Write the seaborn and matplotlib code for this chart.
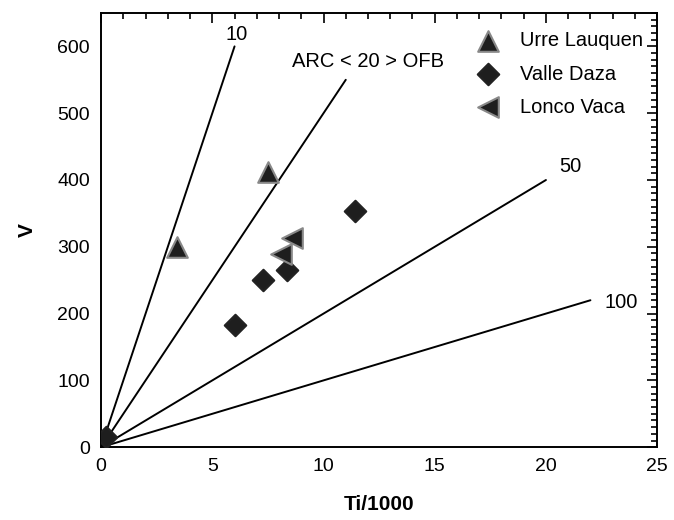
# Ti/1000 vs V discrimination diagram (Shervais-style) with seaborn
import matplotlib

matplotlib.use("Agg", force=True)

import matplotlib.pyplot as plt
import seaborn as sns
import pandas as pd
from matplotlib.ticker import MultipleLocator

# Sample data
urre_ti = [3.4, 7.5]
urre_v = [299, 412]
valle_ti = [0.2, 6.0, 7.3, 8.35, 11.4]
valle_v = [15, 183, 250, 265, 353]
lonco_ti = [8.1, 8.6]
lonco_v = [289, 313]

# Ti/V reference lines: each runs from the origin to an end point
ratio_labels = ["10", "ARC < 20 > OFB", "50", "100"]
line_end_ti = [6, 11, 20, 22]
line_end_v = [600, 550, 400, 220]

sns.set_style("white")
plt.rcParams["font.family"] = ["Liberation Sans", "DejaVu Sans"]
# plain black text everywhere, like the original figure
for key in ["text.color", "axes.labelcolor", "xtick.color", "ytick.color"]:
    plt.rcParams[key] = "black"

fig = plt.figure(figsize=(6.74, 5.20), dpi=100)
ax = fig.add_axes([0.150, 0.140, 0.825, 0.835])

# reference lines
for lab, xe, ye in zip(ratio_labels, line_end_ti, line_end_v):
    line_df = pd.DataFrame({"Ti": [0, xe], "V": [0, ye]})
    sns.lineplot(data=line_df, x="Ti", y="V", ax=ax, color="black", linewidth=1.4)

# labels for the lines
ax.text(6.1, 618, "10", fontsize=14.5, ha="center", va="center")
ax.text(12.0, 578, "ARC < 20 > OFB", fontsize=14.5, ha="center", va="center")
ax.text(21.1, 420, "50", fontsize=14.5, ha="center", va="center")
ax.text(23.4, 216, "100", fontsize=14.5, ha="center", va="center")

groups = [
    ("Urre Lauquen", urre_ti, urre_v, "^", "#888888", 220),
    ("Valle Daza", valle_ti, valle_v, "D", "#222222", 120),
    ("Lonco Vaca", lonco_ti, lonco_v, "<", "#888888", 220),
]
for name, xs, ys, mk, ec, sz in groups:
    df = pd.DataFrame({"Ti": xs, "V": ys})
    sns.scatterplot(data=df, x="Ti", y="V", ax=ax, marker=mk, s=sz,
                    color="#1e1e1e", edgecolor=ec, linewidth=1.5,
                    label=name, zorder=5)

ax.set_xlim(0, 25)
ax.set_ylim(0, 650)
ax.xaxis.set_major_locator(MultipleLocator(5))
ax.xaxis.set_minor_locator(MultipleLocator(1))
ax.yaxis.set_major_locator(MultipleLocator(100))
ax.yaxis.set_minor_locator(MultipleLocator(10))
ax.tick_params(which="both", direction="in", top=True, right=True,
               labelsize=14, width=1.2, pad=8)
ax.tick_params(which="major", length=7)
ax.tick_params(which="minor", length=4)
for sp in ax.spines.values():
    sp.set_linewidth(1.4)
    sp.set_color("black")

ax.set_xlabel("Ti/1000", fontsize=15, fontweight="bold", labelpad=14)
ax.set_ylabel("V", fontsize=15, fontweight="bold", labelpad=15)

ax.legend(loc="upper right", bbox_to_anchor=(1.0, 0.99), frameon=False,
          fontsize=14.5, handletextpad=0.6, labelspacing=0.7, borderaxespad=0.3)

fig.savefig("out.png", dpi=100)
